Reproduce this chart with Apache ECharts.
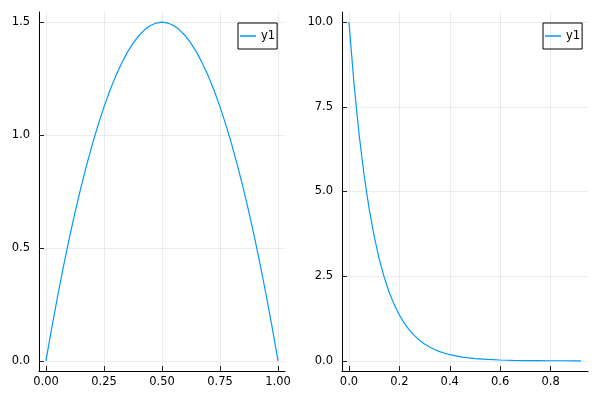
<!DOCTYPE html>
<html>
<head>
<meta charset="utf-8">
<script src="https://cdn.jsdelivr.net/npm/echarts@6/dist/echarts.min.js"></script>
<style>html,body{margin:0;padding:0;background:#fff;}#c{width:600px;height:400px;}</style>
</head>
<body>
<div id="c"></div>
<script>
// Left panel: curve values
const leftX = [0,0.025,0.05,0.075,0.1,0.125,0.15,0.175,0.2,0.225,0.25,0.275,0.3,0.325,0.35,0.375,0.4,0.425,0.45,0.475,0.5,
  0.525,0.55,0.575,0.6,0.625,0.65,0.675,0.7,0.725,0.75,0.775,0.8,0.825,0.85,0.875,0.9,0.925,0.95,0.975,1];
const leftY = [0,0.146,0.285,0.416,0.54,0.656,0.765,0.866,0.96,1.046,1.125,1.196,1.26,1.316,1.365,1.406,1.44,1.466,1.485,1.496,1.5,
  1.496,1.485,1.466,1.44,1.406,1.365,1.316,1.26,1.196,1.125,1.046,0.96,0.866,0.765,0.656,0.54,0.416,0.285,0.146,0];
// Right panel
const rightX = [0,0.02,0.04,0.06,0.08,0.10,0.12,0.14,0.16,0.18,0.20,0.22,0.24,0.26,0.28,0.30,0.32,0.34,0.36,0.38,0.40,
  0.45,0.50,0.55,0.60,0.65,0.70,0.75,0.80,0.85,0.90,0.921];
const rightY = [10,8.187,6.703,5.488,4.493,3.679,3.012,2.466,2.019,1.653,1.353,1.108,0.907,0.743,0.608,0.498,0.408,0.334,0.273,0.224,0.183,
  0.111,0.067,0.041,0.025,0.015,0.009,0.006,0.003,0.002,0.001,0.001];
const leftXTicks = [0,0.25,0.5,0.75,1];
const leftYTicks = [0,0.5,1,1.5];
const rightXTicks = [0,0.2,0.4,0.6,0.8];
const rightYTicks = [0,2.5,5,7.5,10];
const seriesName = 'y1';

const FONT = 'DejaVu Sans';
const lineColor = '#009AFA';
function xAxis(gi, min, max, ticks, dec) {
  return {
    type: 'value', gridIndex: gi, min: min, max: max,
    axisLine: {show: true, onZero: false, lineStyle: {color: '#000', width: 1}},
    axisTick: {show: true, inside: true, length: 5, customValues: ticks, lineStyle: {color: '#222'}},
    axisLabel: {show: true, customValues: ticks, margin: 5, color: '#000', fontFamily: FONT, fontSize: 11.5,
      formatter: v => Number(v).toFixed(dec)},
    splitLine: {show: true, lineStyle: {color: '#ebebeb', width: 1}}
  };
}
function yAxis(gi, min, max, ticks, dec) {
  return {
    type: 'value', gridIndex: gi, min: min, max: max,
    axisLine: {show: true, onZero: false, lineStyle: {color: '#000', width: 1}},
    axisTick: {show: true, inside: true, length: 5, customValues: ticks, lineStyle: {color: '#222'}},
    axisLabel: {show: true, customValues: ticks, margin: 9, color: '#000', fontFamily: FONT, fontSize: 11.5,
      formatter: v => Number(v).toFixed(dec)},
    splitLine: {show: true, lineStyle: {color: '#ebebeb', width: 1}}
  };
}
function legend(left) {
  return {
    show: true, left: left, top: 23, orient: 'horizontal',
    data: [{name: seriesName, icon: 'rect'}],
    borderColor: '#000', borderWidth: 1, borderRadius: 0,
    padding: [6, 2, 6, 2], itemWidth: 16, itemHeight: 1.5, itemGap: 0,
    itemStyle: {color: lineColor},
    textStyle: {color: '#000', fontFamily: FONT, fontSize: 11.5, lineHeight: 14},
    selectedMode: false
  };
}
const chart = echarts.init(document.getElementById('c'), null, {renderer: 'canvas'});
chart.setOption({
  animation: false,
  backgroundColor: '#fff',
  grid: [
    {left: 39, top: 12, width: 246, height: 359, containLabel: false},
    {left: 342, top: 12, width: 246, height: 359, containLabel: false}
  ],
  xAxis: [
    xAxis(0, -0.03, 1.03, leftXTicks, 2),
    xAxis(1, -0.0276, 0.9486, rightXTicks, 1)
  ],
  yAxis: [
    yAxis(0, -0.045, 1.545, leftYTicks, 1),
    yAxis(1, -0.3, 10.3, rightYTicks, 1)
  ],
  legend: [legend(238), legend(543)],
  series: [
    {name: seriesName, type: 'line', xAxisIndex: 0, yAxisIndex: 0, symbol: 'none', smooth: false,
      data: leftX.map((x, i) => [x, leftY[i]]), lineStyle: {color: lineColor, width: 1.2}, itemStyle: {color: lineColor}},
    {name: seriesName, type: 'line', xAxisIndex: 1, yAxisIndex: 1, symbol: 'none', smooth: false,
      data: rightX.map((x, i) => [x, rightY[i]]), lineStyle: {color: lineColor, width: 1.2}, itemStyle: {color: lineColor}}
  ]
});
</script>
</body>
</html>
